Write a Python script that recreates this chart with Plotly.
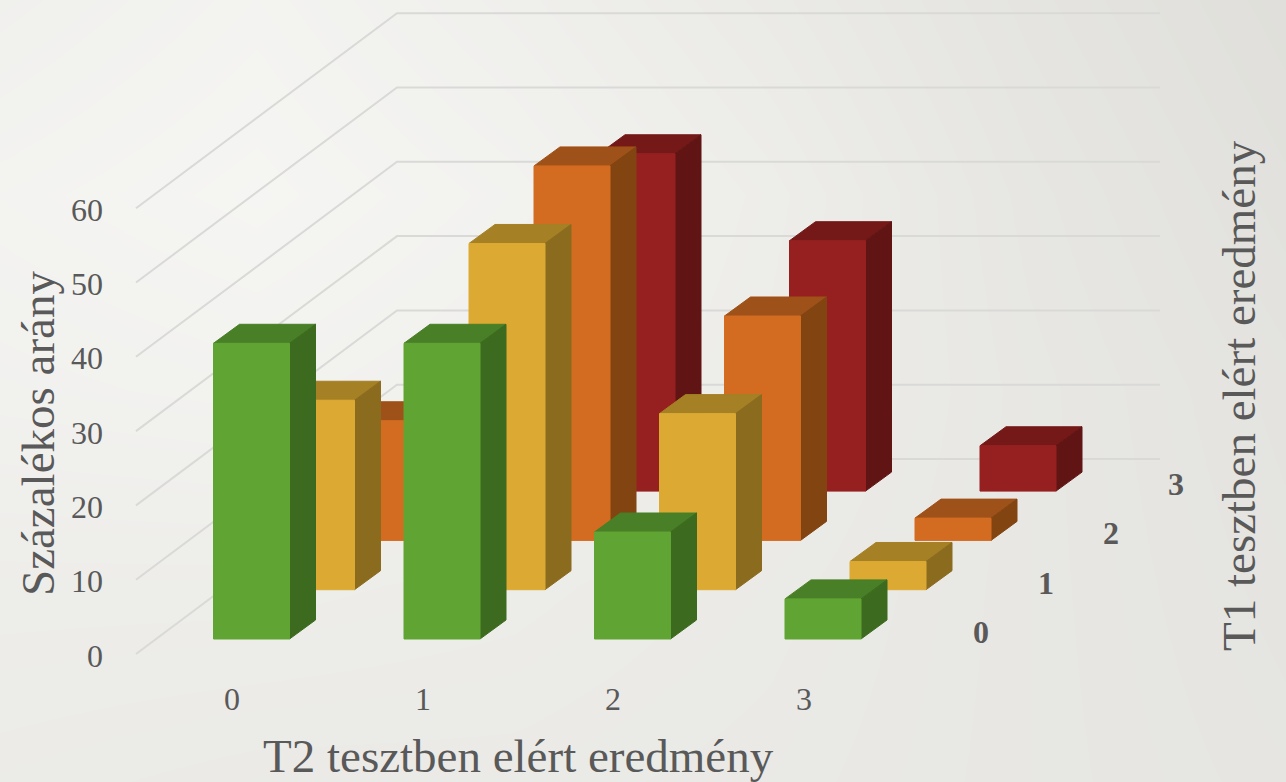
import plotly.graph_objects as go

# ---- data ----
t2_categories = ["0", "1", "2", "3"]
t1_series = ["0", "1", "2", "3"]
t1_0 = [39.8, 39.8, 14.4, 5.4]
t1_1 = [25.5, 46.6, 23.7, 3.8]
t1_2 = [16.1, 50.4, 30.2, 3.0]
t1_3 = [14.5, 45.4, 33.7, 6.1]
value_ticks = [0, 10, 20, 30, 40, 50, 60]
title_x = "T2 tesztben elért eredmény"
title_y = "Százalékos arány"
title_z = "T1 tesztben elért eredmény"
series_values = [t1_0, t1_1, t1_2, t1_3]

# ---- colours: front, top, side ----
palette = [
    ("#60a533", "#497f26", "#3c6b1f"),
    ("#dcaa33", "#a58025", "#8b6c1f"),
    ("#d36c21", "#9e5118", "#824512"),
    ("#962020", "#741818", "#611414"),
]
TEXT = "#595959"
GRID = "#d9d9d7"
FONT = "Liberation Serif"

# ---- oblique projection of the 3D chart onto the page ----
X0, Y0 = 213.5, 639.0
CAT_STEP = 190.5
BAR_W = 76.0
SER_DX, SER_DY = 65.0, -49.3
DEP_DX, DEP_DY = 26.0, -19.0
PER_UNIT = 7.43
WALL_X0, WALL_Y0 = 136.0, 654.0
WALL_X1, WALL_Y1 = 397.0, 459.0
WALL_RIGHT = 1160.0


def project(cat, ser, depth, value):
    x = X0 + cat * CAT_STEP + ser * SER_DX + depth * DEP_DX
    y = Y0 + ser * SER_DY + depth * DEP_DY - value * PER_UNIT
    return x, y


fig = go.Figure()

# background gradient, grey levels
bg_x = [0, 257, 514, 771, 1028, 1286]
bg_y = [0, 195, 390, 585, 782]
bg_z = [
    [240, 243, 239, 234, 228, 223],
    [243, 245, 242, 237, 230, 225],
    [241, 242, 240, 236, 231, 227],
    [237, 237, 236, 234, 231, 228],
    [235, 234, 234, 233, 231, 229],
]
fig.add_trace(go.Heatmap(
    x=bg_x, y=bg_y, z=bg_z, zsmooth="best", zmin=216, zmax=248, showscale=False,
    hoverinfo="skip",
    colorscale=[[0, "#d9d8d3"], [1, "#f8f8f6"]],
))

# gridlines on left and back wall
for v in value_ticks:
    fig.add_trace(go.Scatter(
        x=[WALL_X0, WALL_X1, WALL_RIGHT],
        y=[WALL_Y0 - v * PER_UNIT, WALL_Y1 - v * PER_UNIT, WALL_Y1 - v * PER_UNIT],
        mode="lines", line=dict(color=GRID, width=2), hoverinfo="skip", showlegend=False,
    ))


def face(xs, ys, color, name, value):
    fig.add_trace(go.Scatter(
        x=xs + xs[:1], y=ys + ys[:1], mode="lines", fill="toself", fillcolor=color,
        line=dict(color=color, width=1), showlegend=False, name=name,
        hovertemplate=f"{value}<extra></extra>",
    ))


# painter's order: back row first
for s in range(len(series_values) - 1, -1, -1):
    front, top, side = palette[s]
    for c, v in enumerate(series_values[s]):
        xl, yb = project(c, s, 0, 0)
        _, yt = project(c, s, 0, v)
        xr = xl + BAR_W
        name = f"T1={t1_series[s]} T2={t2_categories[c]}"
        face([xl, xr, xr + DEP_DX, xl + DEP_DX], [yt, yt, yt + DEP_DY, yt + DEP_DY], top, name, v)
        face([xr, xr + DEP_DX, xr + DEP_DX, xr], [yb, yb + DEP_DY, yt + DEP_DY, yt], side, name, v)
        face([xl, xr, xr, xl], [yb, yb, yt, yt], front, name, v)

ann = []
# value axis labels
for v in value_ticks:
    ann.append(dict(x=105, y=655.5 - v * PER_UNIT, text=str(v), xanchor="right", yanchor="middle",
                    font=dict(size=32, color=TEXT, family=FONT)))
# T2 labels
for i, c in enumerate(t2_categories):
    ann.append(dict(x=232 + i * CAT_STEP, y=699, text=c, xanchor="center", yanchor="middle",
                    font=dict(size=32, color=TEXT, family=FONT)))
# T1 labels
for i, s in enumerate(t1_series):
    ann.append(dict(x=981 + i * SER_DX, y=632 + i * SER_DY, text=f"<b>{s}</b>", xanchor="center",
                    yanchor="middle", font=dict(size=32, color=TEXT, family=FONT)))
ann.append(dict(x=518, y=756, text=title_x, xanchor="center", yanchor="middle",
                font=dict(size=47, color=TEXT, family=FONT)))
ann.append(dict(x=38, y=434, text=title_y, textangle=-90, xanchor="center", yanchor="middle",
                font=dict(size=47, color=TEXT, family=FONT)))
ann.append(dict(x=1239, y=396, text=title_z, textangle=-90, xanchor="center", yanchor="middle",
                font=dict(size=47, color=TEXT, family=FONT)))
for a in ann:
    a.update(xref="x", yref="y", showarrow=False)

fig.update_layout(
    width=1286, height=782, autosize=False,
    margin=dict(l=0, r=0, t=0, b=0),
    paper_bgcolor="#eeeeeb", plot_bgcolor="rgba(0,0,0,0)",
    showlegend=False, annotations=ann,
    xaxis=dict(range=[0, 1286], visible=False, fixedrange=True),
    yaxis=dict(range=[782, 0], visible=False, fixedrange=True),
)
fig.write_html(
    "out.html",
    config={"displayModeBar": False},
    post_script="document.body.style.margin='0';document.body.style.overflow='hidden';",
)
